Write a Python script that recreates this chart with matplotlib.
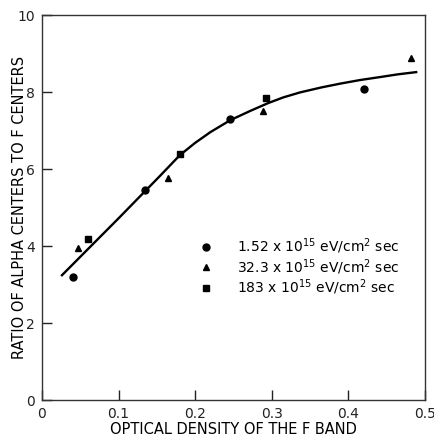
import matplotlib
matplotlib.use("Agg")
import matplotlib.pyplot as plt

# Data
circle_x = [0.041, 0.135, 0.246, 0.421]
circle_y = [3.19, 5.45, 7.30, 8.08]
tri_x = [0.047, 0.165, 0.289, 0.482]
tri_y = [3.95, 5.77, 7.51, 8.88]
sq_x = [0.060, 0.180, 0.293]
sq_y = [4.18, 6.39, 7.84]

curve_x = [0.025, 0.06, 0.10, 0.154, 0.18, 0.20, 0.22, 0.246, 0.272, 0.295,
           0.315, 0.337, 0.365, 0.39, 0.415, 0.442, 0.465, 0.49]
curve_y = [3.22, 3.92, 4.72, 5.82, 6.36, 6.68, 6.96, 7.27, 7.51, 7.71,
           7.86, 7.99, 8.12, 8.22, 8.31, 8.39, 8.46, 8.52]

series_labels = [r"1.52 x 10$^{15}$ eV/cm$^{2}$ sec",
                 r"32.3 x 10$^{15}$ eV/cm$^{2}$ sec",
                 r"183 x 10$^{15}$ eV/cm$^{2}$ sec"]

x_ticks = [0, 0.1, 0.2, 0.3, 0.4, 0.5]
x_ticklabels = ["0", "0.1", "0.2", "0.3", "0.4", "0.5"]
y_ticks = [0, 2, 4, 6, 8, 10]
y_ticklabels = ["0", "2", "4", "6", "8", "10"]

plt.rcParams['font.family'] = ['DejaVu Sans']
plt.rcParams['mathtext.fontset'] = 'dejavusans'

fig = plt.figure(figsize=(4.35, 4.36), dpi=100)
ax = fig.add_axes([42/435, 1 - 400/436, 383/435, 385/436])

ax.plot(curve_x, curve_y, color='black', lw=1.7, solid_capstyle='butt', solid_joinstyle='round')
ax.plot(circle_x, circle_y, 'o', color='black', ms=5, ls='none', label=series_labels[0])
ax.plot(tri_x, tri_y, '^', color='black', ms=5, ls='none', label=series_labels[1])
ax.plot(sq_x, sq_y, 's', color='black', ms=4.5, ls='none', label=series_labels[2])

ax.set_xlim(0, 0.5)
ax.set_ylim(0, 10)
ax.set_xticks(x_ticks)
ax.set_xticklabels(x_ticklabels)
ax.set_yticks(y_ticks)
ax.set_yticklabels(y_ticklabels)
ax.tick_params(direction='in', length=7, width=1, labelsize=10, colors='#222222')
ax.tick_params(axis='x', pad=5)
ax.tick_params(axis='y', pad=5)
for s in ax.spines.values():
    s.set_linewidth(1.0)
    s.set_color('#333333')

ax.set_xlabel("OPTICAL DENSITY OF THE F BAND", fontsize=10.5)
ax.set_ylabel("RATIO OF ALPHA CENTERS TO F CENTERS", fontsize=10.5)
ax.xaxis.set_label_coords(0.5, -0.058)
ax.yaxis.set_label_coords(-0.06, 0.5)
ax.yaxis.label.set_va('center')
ax.xaxis.label.set_va('top')

leg = ax.legend(loc='upper left', bbox_to_anchor=(0.41, 0.425), frameon=False,
                fontsize=10, handlelength=1.0, handletextpad=1.75, labelspacing=0.08,
                borderpad=0, borderaxespad=0)

fig.savefig("out.png", dpi=100)
